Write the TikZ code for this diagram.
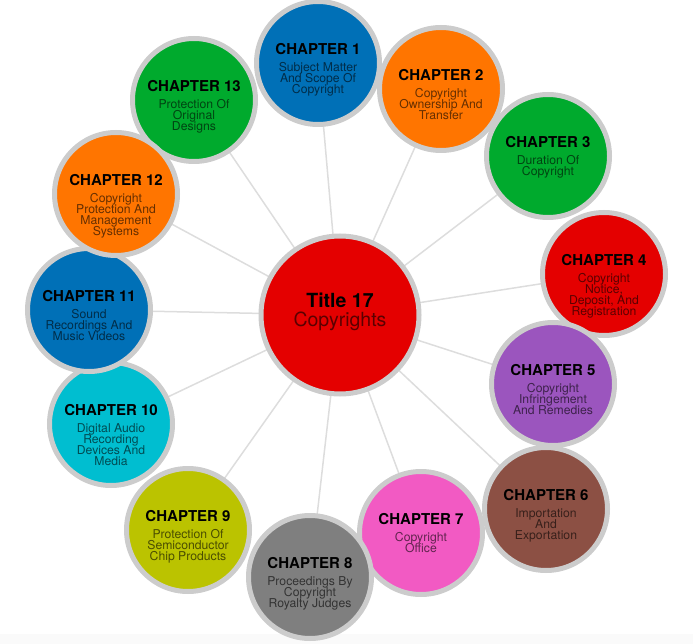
\documentclass[tikz,border=0pt]{standalone}
\usepackage{fontspec}
\setmainfont{TeX Gyre Heros}
\usetikzlibrary{backgrounds}

\definecolor{ringgray}{RGB}{204,204,204}
\definecolor{linkgray}{RGB}{221,221,221}
\definecolor{bandgray}{RGB}{250,250,250}
\definecolor{chblue}{RGB}{0,112,183}
\definecolor{chorange}{RGB}{255,117,0}
\definecolor{chgreen}{RGB}{0,170,45}
\definecolor{chred}{RGB}{228,0,0}
\definecolor{chpurple}{RGB}{155,85,190}
\definecolor{chbrown}{RGB}{140,80,68}
\definecolor{chpink}{RGB}{242,90,195}
\definecolor{chgray}{RGB}{127,127,127}
\definecolor{cholive}{RGB}{187,195,0}
\definecolor{chcyan}{RGB}{0,190,208}

\newcommand{\subfont}{\fontsize{12.2}{10.9}\selectfont\lineskiplimit-20pt\relax}
\tikzset{
  chap/.style={circle, draw=ringgray, line width=5pt, minimum size=123pt, inner sep=0pt},
  chaptext/.style={anchor=north, align=center, inner sep=0pt, font=\subfont},
  link/.style={draw=linkgray, line width=1.5pt},
}
\newcommand{\chaphead}[1]{{\color{black}\fontsize{15}{15}\selectfont\bfseries CHAPTER #1}}
% #1 number, #2 x, #3 y, #4 colour, #5 subtitle
\newcommand{\chapnode}[5]{%
  \node[chap, fill=#4] (ch#1) at (#2,#3) {};
  \node[chaptext, text=#4!40!black] (ch#1-t) at ([yshift=19.5pt]ch#1.center)
    {\chaphead{#1}\\[6pt]#5};
}

\begin{document}
\begin{tikzpicture}[x=1pt, y=-1pt]
  \useasboundingbox (0,0) rectangle (693,644);
  % centre: the title
  \node[chap, fill=chred, minimum size=158pt] (core) at (340,315) {};
  \node[chaptext, font=\fontsize{19.5}{18}\selectfont, text=chred!40!black] (core-t)
    at ([yshift=22pt]core.center)
    {{\color{black}\bfseries Title 17}\\[0.5pt]Copyrights};
  % chapters round it
  \chapnode{13}{194}{100}{chgreen}{Protection Of\\Original\\Designs}
  \chapnode{1}{318}{63}{chblue}{Subject Matter\\And Scope Of\\Copyright}
  \chapnode{2}{441}{89}{chorange}{Copyright\\Ownership And\\Transfer}
  \chapnode{3}{548}{156}{chgreen}{Duration Of\\Copyright}
  \chapnode{4}{604}{274}{chred}{Copyright\\Notice,\\Deposit, And\\Registration}
  \chapnode{5}{553}{384}{chpurple}{Copyright\\Infringement\\And Remedies}
  \chapnode{6}{546}{509}{chbrown}{Importation\\And\\Exportation}
  \chapnode{7}{421}{533}{chpink}{Copyright\\Office}
  \chapnode{8}{310}{577}{chgray}{Proceedings By\\Copyright\\Royalty Judges}
  \chapnode{9}{188}{530}{cholive}{Protection Of\\Semiconductor\\Chip Products}
  \chapnode{10}{111}{424}{chcyan}{Digital Audio\\Recording\\Devices And\\Media}
  \chapnode{11}{89}{310}{chblue}{Sound\\Recordings And\\Music Videos}
  \chapnode{12}{116}{194}{chorange}{Copyright\\Protection And\\Management\\Systems}
  % spokes behind the circles
  \begin{scope}[on background layer]
    \fill[bandgray] (0,634) rectangle (693,644);
    \foreach \n in {1,...,13}
      \draw[link] (core.center) -- (ch\n.center);
  \end{scope}
\end{tikzpicture}
\end{document}
